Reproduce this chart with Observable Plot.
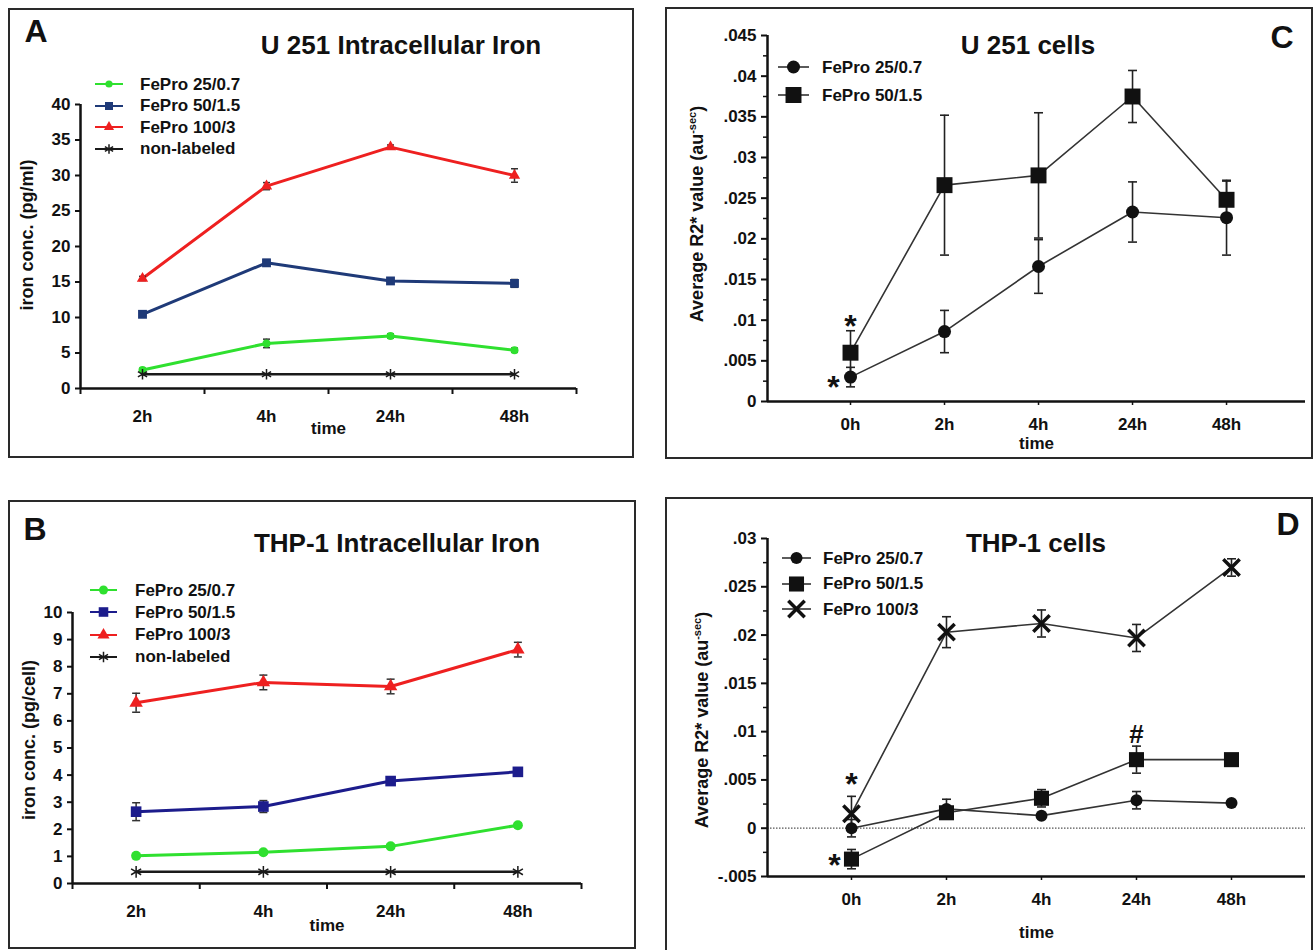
<!DOCTYPE html>
<html><head><meta charset="utf-8">
<script src="https://cdn.jsdelivr.net/npm/d3@7"></script>
<script src="https://cdn.jsdelivr.net/npm/@observablehq/plot@0.6"></script>
<style>
html,body{margin:0;padding:0;background:#fff;}
#fig{position:relative;width:1315px;height:950px;overflow:hidden;background:#fff;font-family:"Liberation Sans",Arial,Helvetica,sans-serif;color:#111;}
.frame{position:absolute;border:2px solid #2a2a2a;box-sizing:border-box;}
.abs{position:absolute;white-space:nowrap;line-height:1;font-weight:bold;}
.letter{font-size:32px;transform:translate(-50%,-50%);}
.title{font-size:26px;transform:translate(-50%,-50%);}
.leg{font-size:17px;display:flex;align-items:center;transform:translateY(-50%);}
.ylab{font-size:18px;transform:translate(-50%,-50%) rotate(-90deg);}
.ylab sup{font-size:11px;vertical-align:7px;}
</style></head><body><div id="fig"></div><script>
// ---------------- data ----------------
const timesAB = ["2h", "4h", "24h", "48h"];
const timesCD = ["0h", "2h", "4h", "24h", "48h"];
const seriesAB = ["FePro 25/0.7", "FePro 50/1.5", "FePro 100/3", "non-labeled"];
const seriesC = ["FePro 25/0.7", "FePro 50/1.5"];
const seriesD = ["FePro 25/0.7", "FePro 50/1.5", "FePro 100/3"];

// Panel A: U 251 intracellular iron (pg/ml)
const aFePro25 = [2.6, 6.35, 7.4, 5.4];
const aFePro25Err = [0.25, 0.6, 0.3, 0.3];
const aFePro50 = [10.45, 17.7, 15.15, 14.8];
const aFePro50Err = [0.3, 0.45, 0.3, 0.55];
const aFePro100 = [15.5, 28.5, 34.0, 30.0];
const aFePro100Err = [0.3, 0.5, 0.3, 0.95];
const aNonLabeled = [2.0, 2.0, 2.0, 2.0];
const aNonLabeledErr = [0, 0, 0, 0];

// Panel B: THP-1 intracellular iron (pg/cell)
const bFePro25 = [1.02, 1.15, 1.37, 2.15];
const bFePro25Err = [0.05, 0.06, 0.07, 0.08];
const bFePro50 = [2.65, 2.84, 3.78, 4.12];
const bFePro50Err = [0.33, 0.22, 0.13, 0.1];
const bFePro100 = [6.67, 7.42, 7.27, 8.63];
const bFePro100Err = [0.35, 0.27, 0.27, 0.27];
const bNonLabeled = [0.43, 0.43, 0.43, 0.43];
const bNonLabeledErr = [0, 0, 0, 0];

// Panel C: U 251 cells, average R2* value
const cFePro25 = [0.003, 0.0086, 0.0166, 0.0233, 0.0226];
const cFePro25Err = [0.0012, 0.0026, 0.0033, 0.0037, 0.0046];
const cFePro50 = [0.006, 0.0266, 0.0278, 0.0375, 0.0248];
const cFePro50Err = [0.0027, 0.0086, 0.0077, 0.0032, 0.0023];

// Panel D: THP-1 cells, average R2* value
const dFePro25 = [0.0, 0.002, 0.0013, 0.0029, 0.0026];
const dFePro25Err = [0.0009, 0.001, 0.0003, 0.0009, 0.0003];
const dFePro50 = [-0.0032, 0.0016, 0.0031, 0.0071, 0.0071];
const dFePro50Err = [0.001, 0.0005, 0.0009, 0.0014, 0.0003];
const dFePro100 = [0.0015, 0.0203, 0.0212, 0.0197, 0.027];
const dFePro100Err = [0.0018, 0.0016, 0.0014, 0.0014, 0.0009];

// significance annotations
const cNotes = [
  {time: "0h", value: 0.0101, label: "*", place: "above"},
  {time: "0h", value: 0.003, label: "*", place: "left"}
];
const dNotes = [
  {time: "0h", value: 0.0052, label: "*", place: "above"},
  {time: "0h", value: -0.0032, label: "*", place: "left"},
  {time: "24h", value: 0.0098, label: "#", place: "above"}
];

// ---------------- helpers ----------------
function tidy(times, names, vals, errs) {
  return names.flatMap((s, si) => times.map((t, i) => ({series: s, time: t, ti: i, value: vals[si][i], err: errs[si][i]})));
}
const rowsA = tidy(timesAB, seriesAB, [aFePro25, aFePro50, aFePro100, aNonLabeled], [aFePro25Err, aFePro50Err, aFePro100Err, aNonLabeledErr]);
const rowsB = tidy(timesAB, seriesAB, [bFePro25, bFePro50, bFePro100, bNonLabeled], [bFePro25Err, bFePro50Err, bFePro100Err, bNonLabeledErr]);
const rowsC = tidy(timesCD, seriesC, [cFePro25, cFePro50], [cFePro25Err, cFePro50Err]);
const rowsD = tidy(timesCD, seriesD, [dFePro25, dFePro50, dFePro100], [dFePro25Err, dFePro50Err, dFePro100Err]);
const notesC = cNotes.map(d => ({...d, ti: timesCD.indexOf(d.time)}));
const notesD = dNotes.map(d => ({...d, ti: timesCD.indexOf(d.time)}));

const FONT = '"Liberation Sans", Arial, Helvetica, sans-serif';
const baseStyle = {fontFamily: FONT, fontSize: "17px", fontWeight: "bold", color: "#111", background: "transparent", overflow: "visible"};
const capSymbol = {draw(ctx, size) { const w = Math.sqrt(size / Math.PI); ctx.moveTo(-w, 0); ctx.lineTo(w, 0); }};
const symbolTypes = {circle: d3.symbolCircle, square: d3.symbolSquare, triangle: d3.symbolTriangle, asterisk: d3.symbolAsterisk, times: d3.symbolTimes};
const fmtR2 = d => d === 0 ? "0" : d3.format(".3~f")(d).replace("\u2212", "-").replace(/^(-?)0\./, "$1.");

// visual specs (styles only)
const green = "#2fe02f", red = "#ee2020";
const specA = [
  {name: "FePro 25/0.7", line: green, lw: 3, symbol: "circle", r: 4, fill: green, stroke: "none", sw: 0},
  {name: "FePro 50/1.5", line: "#1f3a78", lw: 3, symbol: "square", r: 5, fill: "#1f3a78", stroke: "none", sw: 0},
  {name: "FePro 100/3", line: red, lw: 3, symbol: "triangle", r: 4.2, fill: red, stroke: "none", sw: 0},
  {name: "non-labeled", line: "#1a1a1a", lw: 2.5, symbol: "asterisk", r: 5, fill: "none", stroke: "#1a1a1a", sw: 1.5}
];
const specB = [
  {name: "FePro 25/0.7", line: green, lw: 3, symbol: "circle", r: 5, fill: green, stroke: "none", sw: 0},
  {name: "FePro 50/1.5", line: "#1c1c8c", lw: 3, symbol: "square", r: 6, fill: "#1c1c8c", stroke: "none", sw: 0},
  {name: "FePro 100/3", line: red, lw: 3, symbol: "triangle", r: 5, fill: red, stroke: "none", sw: 0},
  {name: "non-labeled", line: "#1a1a1a", lw: 2.5, symbol: "asterisk", r: 5.5, fill: "none", stroke: "#1a1a1a", sw: 1.5}
];
const specC = [
  {name: "FePro 25/0.7", line: "#333", lw: 1.6, symbol: "circle", r: 6.5, fill: "#111", stroke: "none", sw: 0},
  {name: "FePro 50/1.5", line: "#333", lw: 1.6, symbol: "square", r: 9, fill: "#111", stroke: "none", sw: 0}
];
const specD = [
  {name: "FePro 25/0.7", line: "#333", lw: 1.6, symbol: "circle", r: 6, fill: "#111", stroke: "none", sw: 0},
  {name: "FePro 50/1.5", line: "#333", lw: 1.6, symbol: "square", r: 8.5, fill: "#111", stroke: "none", sw: 0},
  {name: "FePro 100/3", line: "#333", lw: 1.6, symbol: "times", r: 7.5, fill: "none", stroke: "#111", sw: 3.5}
];

function seriesMarks(rows, specs, err) {
  const marks = [];
  for (const s of specs) {
    const data = rows.filter(d => d.series === s.name);
    marks.push(Plot.line(data, {x: "ti", y: "value", stroke: s.line, strokeWidth: s.lw}));
  }
  for (const s of specs) {
    const data = rows.filter(d => d.series === s.name && d.err > 0);
    marks.push(
      Plot.ruleX(data, {x: "ti", y1: d => d.value - d.err, y2: d => d.value + d.err, stroke: err.stroke, strokeWidth: err.sw}),
      Plot.dot(data, {x: "ti", y: d => d.value + d.err, symbol: capSymbol, r: err.cap, fill: "none", stroke: err.stroke, strokeWidth: err.sw}),
      Plot.dot(data, {x: "ti", y: d => d.value - d.err, symbol: capSymbol, r: err.cap, fill: "none", stroke: err.stroke, strokeWidth: err.sw})
    );
  }
  for (const s of specs) {
    const data = rows.filter(d => d.series === s.name);
    marks.push(Plot.dot(data, {x: "ti", y: "value", symbol: s.symbol, r: s.r, fill: s.fill, stroke: s.stroke, strokeWidth: s.sw}));
  }
  return marks;
}

const fig = document.getElementById("fig");
function addDiv(cls, css, html) {
  const el = document.createElement("div");
  el.className = cls; el.style.cssText = css; el.innerHTML = html;
  fig.appendChild(el); return el;
}
function place(svg, left, top) {
  svg.style.position = "absolute"; svg.style.left = left + "px"; svg.style.top = top + "px";
  fig.appendChild(svg);
}
function legend(specs, o) {
  specs.forEach((s, i) => {
    const path = d3.symbol(symbolTypes[s.symbol], Math.PI * s.r * s.r)();
    const svg = `<svg width="${o.w}" height="22" viewBox="0 0 ${o.w} 22" style="display:block;overflow:visible">` +
      `<line x1="0" y1="11" x2="${o.w}" y2="11" stroke="${s.line}" stroke-width="${o.lw}"/>` +
      `<path d="${path}" transform="translate(${o.w / 2},11) scale(${o.k})" fill="${s.fill}" stroke="${s.stroke}" stroke-width="${s.sw / o.k}"/></svg>`;
    addDiv("abs leg", `left:${o.left}px;top:${o.top + i * o.step}px;`, svg + `<span style="margin-left:${o.gap}px">${s.name}</span>`);
  });
}

// ---------------- frames ----------------
addDiv("frame", "left:8px;top:8px;width:626px;height:450px;", "");
addDiv("frame", "left:8px;top:500px;width:628px;height:449px;", "");
addDiv("frame", "left:665px;top:7px;width:648px;height:452px;", "");
addDiv("frame", "left:665px;top:497px;width:648px;height:470px;", "");

const xLabel = {label: "time", labelAnchor: "center", labelArrow: "none"};

// ---------------- Panel A ----------------
const xDomAB = [-0.5, 3.5];
const plotA = Plot.plot({
  width: 625, height: 449, marginLeft: 72, marginTop: 96, marginRight: 57, marginBottom: 69,
  x: {type: "linear", domain: xDomAB},
  y: {domain: [0, 40]},
  style: baseStyle,
  marks: [
    Plot.axisY({ticks: d3.range(0, 41, 5), tickSize: 5, tickPadding: 5, strokeWidth: 2, label: null}),
    Plot.axisX({ticks: d3.range(xDomAB[0], xDomAB[1] + 0.1, 1), tickSize: 6, tickFormat: () => "", strokeWidth: 2, label: null}),
    Plot.axisX({ticks: d3.range(timesAB.length), tickSize: 0, tickPadding: 21, tickFormat: i => timesAB[i], ...xLabel, labelOffset: 45}),
    Plot.ruleY([0], {strokeWidth: 2.5, stroke: "#111"}),
    Plot.ruleX([xDomAB[0]], {strokeWidth: 2.5, stroke: "#111"}),
    ...seriesMarks(rowsA, specA, {stroke: "#333", sw: 1.5, cap: 3.5})
  ]
});
place(plotA, 8, 8);

// ---------------- Panel B ----------------
const plotB = Plot.plot({
  width: 627, height: 448, marginLeft: 64, marginTop: 112, marginRight: 54, marginBottom: 65,
  x: {type: "linear", domain: xDomAB},
  y: {domain: [0, 10]},
  style: baseStyle,
  marks: [
    Plot.axisY({ticks: d3.range(0, 11, 1), tickSize: 5, tickPadding: 5, strokeWidth: 2, label: null}),
    Plot.axisX({ticks: d3.range(xDomAB[0], xDomAB[1] + 0.1, 1), tickSize: 6, tickFormat: () => "", strokeWidth: 2, label: null}),
    Plot.axisX({ticks: d3.range(timesAB.length), tickSize: 0, tickPadding: 21, tickFormat: i => timesAB[i], ...xLabel, labelOffset: 47}),
    Plot.ruleY([0], {strokeWidth: 2.5, stroke: "#111"}),
    Plot.ruleX([xDomAB[0]], {strokeWidth: 2.5, stroke: "#111"}),
    ...seriesMarks(rowsB, specB, {stroke: "#333", sw: 1.5, cap: 4})
  ]
});
place(plotB, 8, 500);

// ---------------- Panel C ----------------
const xDomC = [-0.883, 4.84];
const minorC = d3.range(9).map(i => (2 * i + 1) * 0.0025);
const plotC = Plot.plot({
  width: 647, height: 451, marginLeft: 102, marginTop: 28, marginRight: 7, marginBottom: 57,
  x: {type: "linear", domain: xDomC},
  y: {domain: [0, 0.045]},
  style: baseStyle,
  marks: [
    Plot.axisY({ticks: d3.ticks(0, 0.045, 9), tickFormat: fmtR2, tickSize: 6, tickPadding: 5, strokeWidth: 2, label: null}),
    Plot.axisY({ticks: minorC, tickFormat: () => "", tickSize: 4, strokeWidth: 1.5, label: null}),
    Plot.axisX({ticks: d3.range(timesCD.length), tickFormat: i => timesCD[i], tickSize: 4, tickPadding: 12, strokeWidth: 1.5, ...xLabel, labelOffset: 47}),
    Plot.ruleY([0], {strokeWidth: 2.5, stroke: "#111"}),
    Plot.ruleX([xDomC[0]], {strokeWidth: 2.5, stroke: "#111"}),
    ...seriesMarks(rowsC, specC, {stroke: "#222", sw: 1.6, cap: 4.5}),
    Plot.text(notesC.filter(d => d.place === "above"), {x: "ti", y: "value", text: "label", fontSize: 32, dy: 7, fill: "#111"}),
    Plot.text(notesC.filter(d => d.place === "left"), {x: "ti", y: "value", text: "label", fontSize: 32, dx: -17, dy: 11, fill: "#111"})
  ]
});
place(plotC, 665, 7);

// ---------------- Panel D ----------------
const xDomD = [-0.884, 4.779];
const minorD = d3.range(7).map(i => (2 * i + 1) * 0.0025 - 0.005);
const plotD = Plot.plot({
  width: 647, height: 453, marginLeft: 102, marginTop: 41, marginRight: 7, marginBottom: 74,
  x: {type: "linear", domain: xDomD},
  y: {domain: [-0.005, 0.03]},
  style: baseStyle,
  marks: [
    Plot.axisY({ticks: d3.ticks(-0.005, 0.03, 7), tickFormat: fmtR2, tickSize: 6, tickPadding: 5, strokeWidth: 2, label: null}),
    Plot.axisY({ticks: minorD, tickFormat: () => "", tickSize: 4, strokeWidth: 1.5, label: null}),
    Plot.axisX({ticks: d3.range(timesCD.length), tickFormat: i => timesCD[i], tickSize: 4, tickPadding: 12, strokeWidth: 1.5, ...xLabel, labelOffset: 61}),
    Plot.ruleY([0], {stroke: "#555", strokeWidth: 1.3, strokeDasharray: "1.5,1.5"}),
    Plot.ruleY([-0.005], {strokeWidth: 2.5, stroke: "#111"}),
    Plot.ruleX([xDomD[0]], {strokeWidth: 2.5, stroke: "#111"}),
    ...seriesMarks(rowsD, specD, {stroke: "#222", sw: 1.6, cap: 4.5}),
    Plot.text(notesD.filter(d => d.place === "above" && d.label === "*"), {x: "ti", y: "value", text: "label", fontSize: 32, dy: 7, fill: "#111"}),
    Plot.text(notesD.filter(d => d.place === "above" && d.label === "#"), {x: "ti", y: "value", text: "label", fontSize: 26, dy: 1, fill: "#111"}),
    Plot.text(notesD.filter(d => d.place === "left"), {x: "ti", y: "value", text: "label", fontSize: 32, dx: -17, dy: 7, fill: "#111"})
  ]
});
place(plotD, 665, 497);

// ---------------- titles, letters, axis titles ----------------
addDiv("abs letter", "left:36px;top:31px;", "A");
addDiv("abs letter", "left:35px;top:529px;", "B");
addDiv("abs letter", "left:1282px;top:37px;", "C");
addDiv("abs letter", "left:1288px;top:524px;", "D");
addDiv("abs title", "left:401px;top:45px;", "U 251 Intracellular Iron");
addDiv("abs title", "left:397px;top:543px;", "THP-1 Intracellular Iron");
addDiv("abs title", "left:1028px;top:45px;", "U 251 cells");
addDiv("abs title", "left:1036px;top:543px;", "THP-1 cells");
addDiv("abs ylab", "left:27px;top:235px;", "iron conc. (pg/ml)");
addDiv("abs ylab", "left:29px;top:740px;", "iron conc. (pg/cell)");
addDiv("abs ylab", "left:696px;top:214px;", "Average R2* value (au<sup>-sec</sup>)");
addDiv("abs ylab", "left:701px;top:720px;", "Average R2* value (au<sup>-sec</sup>)");

// ---------------- legends ----------------
legend(specA, {left: 95, top: 84, step: 21.5, w: 28, gap: 17, lw: 2, k: 0.9});
legend(specB, {left: 90, top: 590, step: 22.3, w: 27, gap: 18, lw: 2, k: 0.9});
legend(specC, {left: 778, top: 67, step: 28, w: 31, gap: 13, lw: 1.6, k: 1});
legend(specD, {left: 782, top: 558, step: 25.5, w: 29, gap: 12, lw: 1.6, k: 1});
</script></body></html>
